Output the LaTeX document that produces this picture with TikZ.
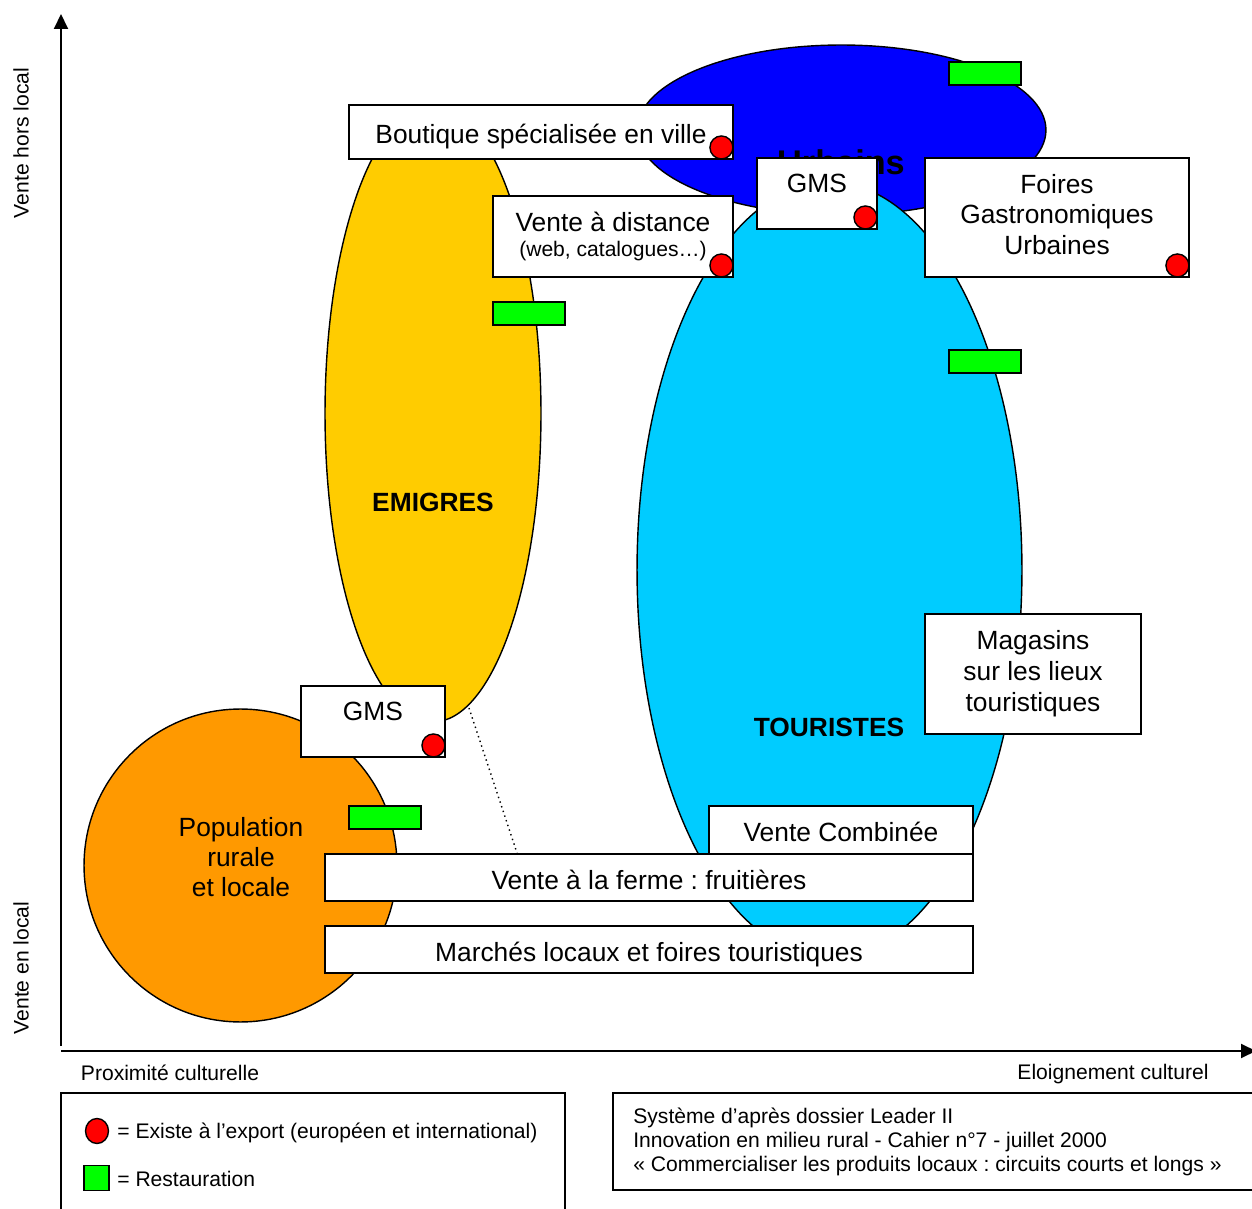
\documentclass[tikz,border=0pt]{standalone}
\usepackage{fontspec}
\setmainfont{Liberation Sans}
\frenchspacing
\usetikzlibrary{shapes.geometric,arrows.meta,positioning}

\definecolor{emigyellow}{HTML}{FFCC00}
\definecolor{touristcyan}{HTML}{00CCFF}
\definecolor{ruralorange}{HTML}{FF9900}

\tikzset{
  zone/.style={draw, line width=0.8pt, ellipse, inner sep=0pt},
  box/.style={draw, fill=white, line width=1.1pt, inner sep=0pt, align=center,
    font=\fontsize{15}{17.6}\selectfont},
  oneline/.style={text height=13pt, text depth=0pt},
  export/.style={circle, draw, fill=red, line width=0.8pt, minimum size=0.46cm, inner sep=0pt},
  resto/.style={draw, fill=green, line width=1.1pt, minimum width=1.44cm, minimum height=0.46cm, inner sep=0pt},
  small/.style={font=\fontsize{12}{14}\selectfont},
  big/.style={font=\fontsize{15}{17}\selectfont\bfseries},
}

\newcommand\exportdot[1]{\node[export] at ([shift={(-0.25cm,0.25cm)}]#1.south east) {};}

\begin{document}
\begin{tikzpicture}[x=0.02cm, y=-0.02cm]
  \useasboundingbox (0,0) rectangle (1252,1209);

  \node[zone, fill=blue, minimum width=8.18cm, minimum height=3.4cm] (urbains) at (841.5,130) {};
  \node[font=\fontsize{19.5}{22}\selectfont\bfseries] at (841,162) {Urbains};
  \node[zone, fill=touristcyan, minimum width=7.7cm, minimum height=15.52cm] (touristes) at (829.5,570) {};
  \node[zone, fill=emigyellow, minimum width=4.32cm, minimum height=12.34cm] (emigres) at (433,413.5) {};
  \node[zone, circle, fill=ruralorange, minimum size=6.26cm] (rurale) at (240.5,865.5) {};

  \node[big] at (433,502) {EMIGRES};
  \node[big] at (829,727) {TOURISTES};
  \node[align=center, font=\fontsize{15}{17}\selectfont] at (241,857) {Population\\rurale\\et locale};

  \node[resto] (r1) at (985,73.5) {};
  \node[resto] (r2) at (529,313.5) {};
  \node[resto] (r3) at (985,361.5) {};
  \node[resto] (r4) at (385,817.5) {};

  \coordinate (dotA) at (469,708);
  \coordinate (dotB) at (517,853);
  \draw[dotted, line width=0.8pt] (dotA) -- (dotB);

  \node[box, oneline, minimum width=7.68cm, minimum height=1.08cm] (boutique) at (541,132) {Boutique spécialisée en ville};
  \node[box, minimum width=4.8cm, minimum height=1.62cm] (distance) at (613,236.5)
    {Vente à distance\\[-3pt]{\fontsize{12}{14}\selectfont (web, catalogues…)}};
  \node[box, minimum width=2.4cm, minimum height=1.42cm] (gmsT) at (817,193.5) {};
  \node[box, draw=none, fill=none, below=0.32cm of gmsT.north] {GMS};
  \node[box, text depth=3.5pt, minimum width=5.28cm, minimum height=2.38cm] (foires) at (1057,217.5) {Foires\\Gastronomiques\\Urbaines};
  \node[box, minimum width=4.32cm, minimum height=2.4cm] (magasins) at (1033,674) {Magasins\\sur les lieux\\touristiques};
  \node[box, minimum width=2.88cm, minimum height=1.42cm] (gmsB) at (373,721.5) {};
  \node[box, draw=none, fill=none, below=0.32cm of gmsB.north] {GMS};
  \node[box, oneline, minimum width=5.28cm, minimum height=0.96cm] (combinee) at (841,830) {Vente Combinée};
  \node[box, text height=14pt, text depth=0pt, minimum width=12.96cm, minimum height=0.94cm] (ferme) at (649,877.5) {Vente à la ferme : fruitières};
  \node[box, text height=14pt, text depth=0pt, minimum width=12.96cm, minimum height=0.94cm] (marches) at (649,949.5) {Marchés locaux et foires touristiques};

  \exportdot{boutique}
  \exportdot{distance}
  \exportdot{gmsT}
  \exportdot{foires}
  \exportdot{gmsB}

  \coordinate (yO) at (61,1046);
  \coordinate (yT) at (61,14);
  \coordinate (xO) at (61,1051);
  \coordinate (xT) at (1256,1051);
  \draw[line width=1.1pt, -{Triangle[length=0.3cm, width=0.28cm]}] (yO) -- (yT);
  \draw[line width=1.1pt, -{Triangle[length=0.3cm, width=0.28cm]}] (xO) -- (xT);

  \node[small, rotate=90] (horslocal) at (21,143) {Vente hors local};
  \node[small, rotate=90] (enlocal) at (21,968) {Vente en local};
  \node[small] (proximite) at (170,1073) {Proximité culturelle};
  \node[small] (eloignement) at (1113,1074) {Eloignement culturel};

  \draw[line width=1.1pt] (61,1215) -- (61,1093) -- (565,1093) -- (565,1215);
  \node[export, minimum width=0.46cm, minimum height=0.5cm, ellipse] (legdot) at (97,1131) {};
  \node[draw, fill=green, line width=1.1pt, minimum size=0.5cm, inner sep=0pt] (legsq) at (96.5,1178) {};
  \node[small, anchor=west, inner sep=0pt] at (117,1133) {= Existe à l’export (européen et international)};
  \node[small, anchor=west, inner sep=0pt] at (117,1179) {= Restauration};

  \draw[line width=1.1pt] (1260,1093) -- (613,1093) -- (613,1190) -- (1260,1190);
  \node[anchor=west, align=left, inner sep=0pt, font=\fontsize{12}{13.9}\selectfont] (source) at (633,1142)
    {Système d’après dossier Leader II\\Innovation en milieu rural - Cahier n°7 - juillet 2000\\« Commercialiser les produits locaux : circuits courts et longs »};
\end{tikzpicture}
\end{document}
